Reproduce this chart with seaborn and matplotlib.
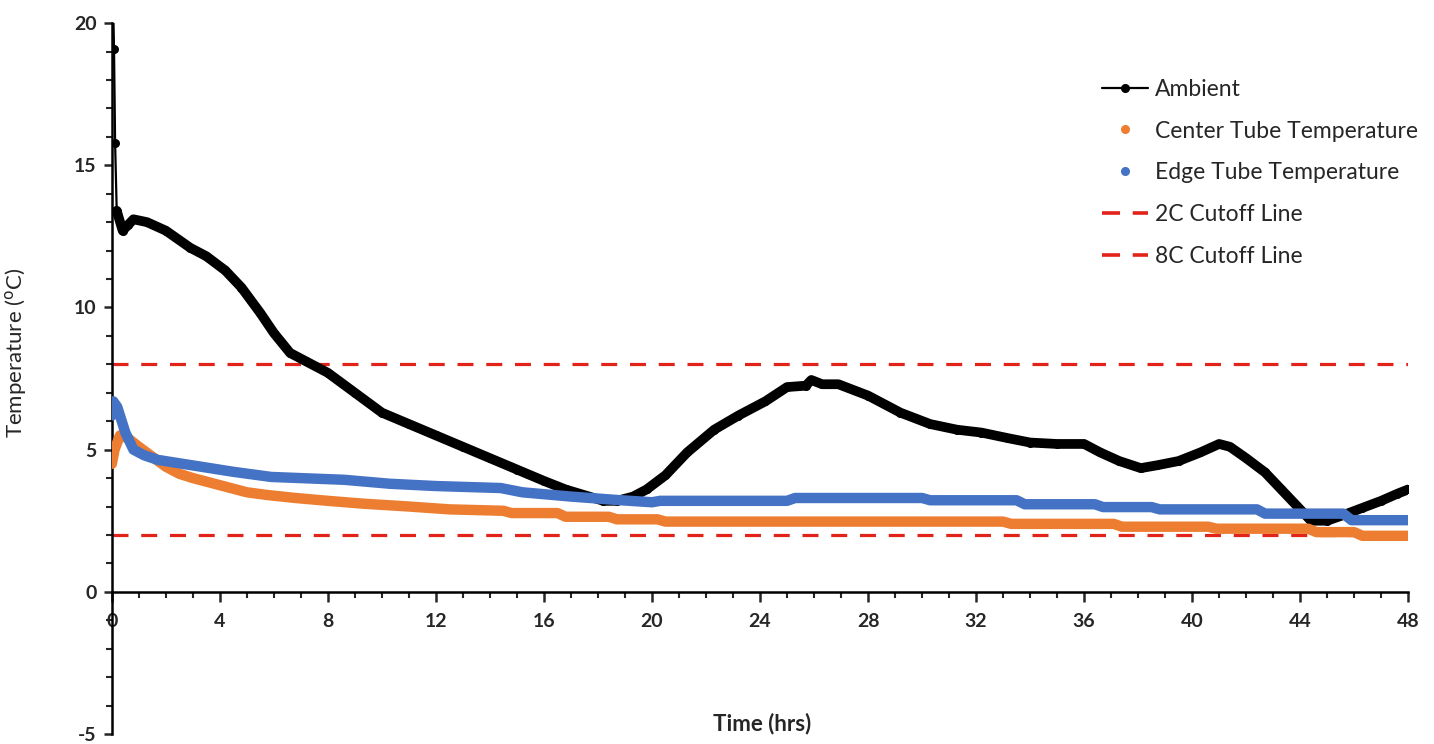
import pandas as pd
import seaborn as sns
import matplotlib.pyplot as plt
from matplotlib.lines import Line2D
from matplotlib.ticker import MultipleLocator

# valores
amb_t = [0.02, 0.08, 0.12, 0.18, 0.4, 0.6, 0.8, 1.3, 2.0, 2.9, 3.5, 4.2, 4.8, 5.5, 6.0,
         6.6, 7.2, 8.0, 9.0, 10.0, 11.0, 12.0, 13.0, 14.0, 15.0, 16.0, 16.8, 17.5, 18.2,
         18.7, 19.3, 19.8, 20.5, 21.3, 22.3, 23.2, 24.2, 25.0, 25.7, 25.9, 26.3, 26.9,
         28.0, 29.2, 30.3, 31.3, 32.2, 33.2, 34.0, 35.0, 36.0, 36.6, 37.3, 38.1, 38.7,
         39.5, 40.3, 41.0, 41.4, 42.0, 42.7, 43.3, 43.9, 44.4, 45.0, 45.6, 46.3, 47.0,
         47.6, 48.0]
amb_temp = [22.0, 19.1, 15.8, 13.4, 12.7, 12.9, 13.1, 13.0, 12.7, 12.1, 11.8, 11.3, 10.7,
            9.8, 9.1, 8.4, 8.1, 7.7, 7.0, 6.3, 5.9, 5.5, 5.1, 4.7, 4.3, 3.9, 3.6, 3.4, 3.2,
            3.2, 3.35, 3.6, 4.1, 4.9, 5.7, 6.2, 6.7, 7.2, 7.25, 7.45, 7.3, 7.3, 6.9, 6.3,
            5.9, 5.7, 5.6, 5.4, 5.25, 5.2, 5.2, 4.9, 4.6, 4.35, 4.45, 4.6, 4.9, 5.2, 5.1,
            4.7, 4.2, 3.6, 3.0, 2.5, 2.5, 2.7, 2.95, 3.2, 3.45, 3.6]

center_t = [0.0, 0.1, 0.3, 0.6, 1.0, 1.5, 2.0, 2.5, 3.0, 3.6, 4.2, 5.0, 5.8, 6.8, 8.0, 9.3,
            11.0, 12.5, 14.5, 14.8, 16.5, 16.8, 18.4, 18.7, 20.2, 20.5, 33.0, 33.3, 37.1,
            37.4, 40.6, 40.9, 44.3, 44.6, 46.0, 46.3, 48.0]
center_temp = [4.5, 5.0, 5.5, 5.4, 5.1, 4.75, 4.4, 4.15, 4.0, 3.85, 3.7, 3.5, 3.4, 3.3, 3.2,
               3.1, 3.0, 2.9, 2.85, 2.77, 2.77, 2.64, 2.64, 2.55, 2.55, 2.47, 2.47, 2.39,
               2.39, 2.29, 2.29, 2.22, 2.22, 2.1, 2.1, 1.97, 1.97]

edge_t = [0.0, 0.05, 0.2, 0.5, 0.8, 1.2, 1.7, 2.9, 4.5, 5.9, 8.6, 10.3, 12.0, 14.4, 15.2,
          17.0, 18.7, 20.0, 20.3, 25.0, 25.3, 30.0, 30.3, 33.5, 33.8, 36.4, 36.7, 38.5,
          38.8, 42.4, 42.7, 45.6, 45.9, 48.0]
edge_temp = [6.2, 6.7, 6.5, 5.6, 5.0, 4.8, 4.64, 4.46, 4.22, 4.04, 3.94, 3.8, 3.72, 3.65,
             3.5, 3.35, 3.23, 3.15, 3.2, 3.2, 3.3, 3.3, 3.22, 3.22, 3.08, 3.08, 2.98, 2.98,
             2.9, 2.9, 2.75, 2.75, 2.52, 2.52]

cutoffs = [2, 8]
cutoff_labels = ['2C Cutoff Line', '8C Cutoff Line']
x_ticks = list(range(0, 49, 4))
y_ticks = list(range(-5, 21, 5))

preto, laranja, azul, vermelho = 'black', '#ED7D31', '#4472C4', '#E2231A'

amb = pd.DataFrame({'t': amb_t, 'T': amb_temp})
center = pd.DataFrame({'t': center_t, 'T': center_temp})
edge = pd.DataFrame({'t': edge_t, 'T': edge_temp})

sns.set_theme(style="white")
plt.rcParams['font.family'] = ['Lato', 'DejaVu Sans']
plt.rcParams['axes.unicode_minus'] = False

fig = plt.figure(figsize=(14.34, 7.44), dpi=100)
ax = fig.add_axes([0.078, 0.0134, 0.904, 0.9556])

# linhas de corte
for c in cutoffs:
    ax.axhline(c, color=vermelho, lw=2.3, dashes=(5, 4), zorder=1)

# ambiente: traço fino com pontos + traço grosso depois que estabiliza
sns.lineplot(data=amb, x='t', y='T', ax=ax, color=preto, lw=1.6, marker='o',
             markersize=6.5, markeredgewidth=0, zorder=2)
sns.lineplot(data=amb.iloc[3:], x='t', y='T', ax=ax, color=preto, lw=7,
             solid_capstyle='round', solid_joinstyle='round', zorder=2)

sns.lineplot(data=center, x='t', y='T', ax=ax, color=laranja, lw=7.5,
             solid_capstyle='round', solid_joinstyle='round', zorder=3)
sns.lineplot(data=edge, x='t', y='T', ax=ax, color=azul, lw=7.5,
             solid_capstyle='round', solid_joinstyle='round', zorder=4)

ax.set_xlim(0, 48)
ax.set_ylim(-5, 20)
ax.spines['left'].set_position(('data', 0))
ax.spines['bottom'].set_position(('data', 0))
for s in ['top', 'right']:
    ax.spines[s].set_visible(False)
for s in ['left', 'bottom']:
    ax.spines[s].set_color('black')
    ax.spines[s].set_linewidth(1.8)

ax.set_xticks(x_ticks)
ax.set_yticks(y_ticks)
ax.xaxis.set_minor_locator(MultipleLocator(1))
ax.yaxis.set_minor_locator(MultipleLocator(1))
ax.tick_params(axis='x', which='major', direction='out', length=7, width=1.8, pad=8,
               bottom=True, labelsize=14)
ax.tick_params(axis='x', which='minor', direction='out', length=4.5, width=1.5, bottom=True)
ax.tick_params(axis='y', which='major', direction='out', length=6, width=1.8, pad=5,
               left=True, labelsize=14)
ax.tick_params(axis='y', which='minor', direction='out', length=4.5, width=1.5, left=True)

ax.set_xlabel('Time (hrs)', fontsize=16, fontweight='bold')
ax.set_ylabel('Temperature ($^\\mathrm{o}$C)', fontsize=16)
ax.xaxis.set_label_coords(0.5015, 0.03)
ax.yaxis.set_label_coords(-0.064, 0.537)

handles = [
    Line2D([], [], color=preto, lw=1.6, marker='o', markersize=5.5),
    Line2D([], [], color=laranja, lw=0, marker='o', markersize=5.5),
    Line2D([], [], color=azul, lw=0, marker='o', markersize=5.5),
    Line2D([], [], color=vermelho, lw=2.6, dashes=(5, 3.5)),
    Line2D([], [], color=vermelho, lw=2.6, dashes=(5, 3.5)),
]
labels = ['Ambient', 'Center Tube Temperature', 'Edge Tube Temperature'] + cutoff_labels
fig.legend(handles, labels, loc='upper left', bbox_to_anchor=(0.754, 0.922),
           frameon=False, fontsize=16.5, handlelength=2.0, handletextpad=0.3,
           labelspacing=0.91)

# rótulos dos ticks em negrito (depois de desenhar, para pegar todos)
fig.canvas.draw()
for lab in ax.get_xticklabels() + ax.get_yticklabels():
    lab.set_fontweight('bold')

fig.savefig('out.png', dpi=100)
